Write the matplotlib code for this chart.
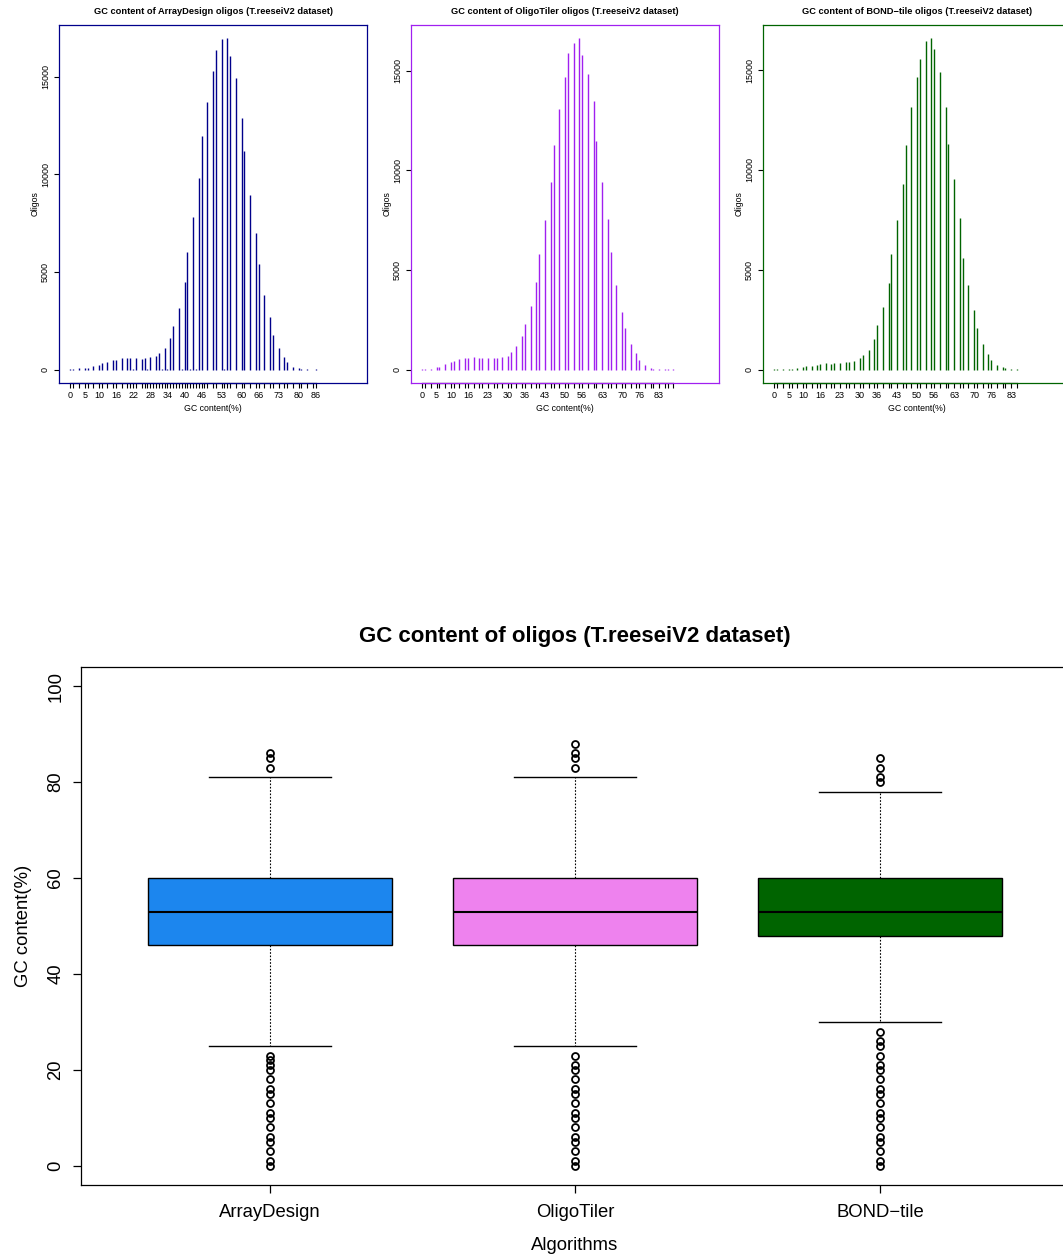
import matplotlib.pyplot as plt
import numpy as np

plt.rcParams['font.family'] = ['Liberation Sans', 'DejaVu Sans']

# ---- histogram data (GC content value -> number of oligos) ----
ad_gc = [0, 1, 3, 5, 6, 8, 10, 11, 13, 15, 16, 18, 20, 21, 22, 23, 25, 26, 27, 28, 29,
         30, 31, 32, 33, 34, 35, 36, 37, 38, 39, 40, 41, 42, 43, 44, 45, 46, 47, 48,
         50, 51, 53, 54, 55, 56, 58, 60, 61, 63, 65, 66, 68, 70, 71, 73, 75, 76, 78,
         80, 81, 83, 85, 86]
ad_n = [30, 30, 70, 85, 100, 170, 220, 340, 390, 480, 510, 580, 580, 580, 15, 580, 560,
        600, 15, 630, 10, 680, 840, 15, 1090, 20, 1600, 2220, 10, 3170, 15, 4470, 6010,
        25, 7830, 20, 9810, 11960, 10, 13720, 15270, 16380, 16920, 25, 16960, 16050,
        14950, 12900, 11170, 8920, 7010, 5390, 3800, 2710, 1790, 1110, 650, 390, 150,
        85, 50, 20, 10, 20]
ad_labels = [0, 5, 10, 16, 22, 28, 34, 40, 46, 53, 60, 66, 73, 80, 86]

ot_gc = [0, 1, 3, 5, 6, 8, 10, 11, 13, 15, 16, 18, 20, 21, 23, 25, 26, 28, 30, 31, 33,
         35, 36, 38, 40, 41, 43, 45, 46, 48, 50, 51, 53, 55, 56, 58, 60, 61, 63, 65, 66,
         68, 70, 71, 73, 75, 76, 78, 80, 81, 83, 85, 86, 88]
ot_n = [50, 50, 50, 120, 150, 270, 370, 450, 550, 600, 600, 640, 570, 590, 570, 570,
        600, 640, 700, 900, 1170, 1700, 2300, 3210, 4410, 5820, 7520, 9430, 11250,
        13090, 14700, 15880, 16370, 16620, 15800, 14830, 13460, 11490, 9430, 7570,
        5900, 4250, 2910, 2070, 1290, 850, 470, 230, 100, 50, 20, 20, 15, 15]
ot_labels = [0, 5, 10, 16, 23, 30, 36, 43, 50, 56, 63, 70, 76, 83]

bt_gc = [0, 1, 3, 5, 6, 8, 10, 11, 13, 15, 16, 18, 20, 21, 23, 25, 26, 28, 30, 31, 33,
         35, 36, 38, 40, 41, 43, 45, 46, 48, 50, 51, 53, 55, 56, 58, 60, 61, 63, 65, 66,
         68, 70, 71, 73, 75, 76, 78, 80, 81, 83, 85]
bt_n = [15, 15, 15, 50, 50, 100, 120, 180, 200, 250, 270, 320, 300, 320, 350, 370, 400,
        450, 600, 730, 1000, 1550, 2250, 3150, 4320, 5790, 7480, 9310, 11270, 13150,
        14670, 15560, 16470, 16590, 16060, 14920, 13170, 11320, 9550, 7590, 5610, 4260,
        2990, 2070, 1300, 770, 470, 220, 130, 70, 15, 15]
bt_labels = [0, 5, 10, 16, 23, 30, 36, 43, 50, 56, 63, 70, 76, 83]

# ---- boxplot summary ----
algos = ['ArrayDesign', 'OligoTiler', 'BOND\u2212tile']
box_q1 = [46, 46, 48]
box_med = [53, 53, 53]
box_q3 = [60, 60, 60]
box_lo = [25, 25, 30]
box_hi = [81, 81, 78]
box_fill = ['#1C86EE', '#EE82EE', '#006400']

fig = plt.figure(figsize=(10.63, 12.56), dpi=100)


def hist_panel(left, gc, n, labels, col, name):
    ax = fig.add_axes([left, 0.6951, 0.2898, 0.2850])
    ax.vlines(gc, 0, n, color=col, lw=1.0)
    ax.set_xlim(-4, 104)
    top = max(n)
    ax.set_ylim(-0.04 * top, 1.04 * top)
    ax.set_xticks(gc)
    ax.set_xticklabels([str(g) if g in labels else '' for g in gc])
    ax.set_yticks([0, 5000, 10000, 15000])
    ax.tick_params(axis='x', length=3.5, width=0.8, pad=2, labelsize=6.5)
    ax.tick_params(axis='y', length=3.5, width=0.8, pad=3, labelsize=6.5,
                   labelrotation=90)
    for lab in ax.get_yticklabels():
        lab.set_va('center')
    for sp in ax.spines.values():
        sp.set_color(col)
        sp.set_linewidth(0.9)
    ax.plot([min(gc), max(gc)], [0, 0], transform=ax.get_xaxis_transform(),
            color='black', lw=0.9, clip_on=False)
    ax.set_title('GC content of %s oligos (T.reeseiV2 dataset)' % name,
                 fontsize=6.7, fontweight='bold', pad=8)
    ax.set_xlabel('GC content(%)', fontsize=6.3, labelpad=3)
    ax.set_ylabel('Oligos', fontsize=6.3, labelpad=1)


hist_panel(0.0555, ad_gc, ad_n, ad_labels, '#00008B', 'ArrayDesign')
hist_panel(0.3866, ot_gc, ot_n, ot_labels, '#A020F0', 'OligoTiler')
hist_panel(0.7178, bt_gc, bt_n, bt_labels, '#006400', 'BOND\u2212tile')

# ---- boxplot ----
ax = fig.add_axes([0.0762, 0.05653, 0.9295, 0.4124])
stats = []
for i, gc in enumerate([ad_gc, ot_gc, bt_gc]):
    fl = [g for g in gc if g < box_lo[i] or g > box_hi[i]]
    stats.append(dict(med=box_med[i], q1=box_q1[i], q3=box_q3[i],
                      whislo=box_lo[i], whishi=box_hi[i], fliers=fl, label=algos[i]))
res = ax.bxp(stats, positions=[1, 2, 3], widths=0.8, capwidths=0.4, patch_artist=True,
             boxprops=dict(edgecolor='black', lw=1),
             medianprops=dict(color='black', lw=1.5),
             whiskerprops=dict(color='black', lw=0.8, ls=(0, (1.5, 1.5))),
             capprops=dict(color='black', lw=1),
             flierprops=dict(marker='o', mfc='none', mec='black', ms=5, mew=1.3))
for b, c in zip(res['boxes'], box_fill):
    b.set_facecolor(c)
ax.set_xlim(0.38, 3.62)
ax.set_ylim(-4, 104)
ax.set_yticks([0, 20, 40, 60, 80, 100])
ax.tick_params(axis='both', labelsize=13.3, length=6, width=0.9)
ax.tick_params(axis='y', labelrotation=90, pad=6)
ax.tick_params(axis='x', pad=8)
for lab in ax.get_yticklabels():
    lab.set_va('center')
for sp in ax.spines.values():
    sp.set_linewidth(0.9)
ax.set_title('GC content of oligos (T.reeseiV2 dataset)', fontsize=16,
             fontweight='bold', pad=18)
ax.set_xlabel('Algorithms', fontsize=13.3, labelpad=11)
ax.set_ylabel('GC content(%)', fontsize=13.3, labelpad=11)

fig.savefig('out.png', dpi=100)
